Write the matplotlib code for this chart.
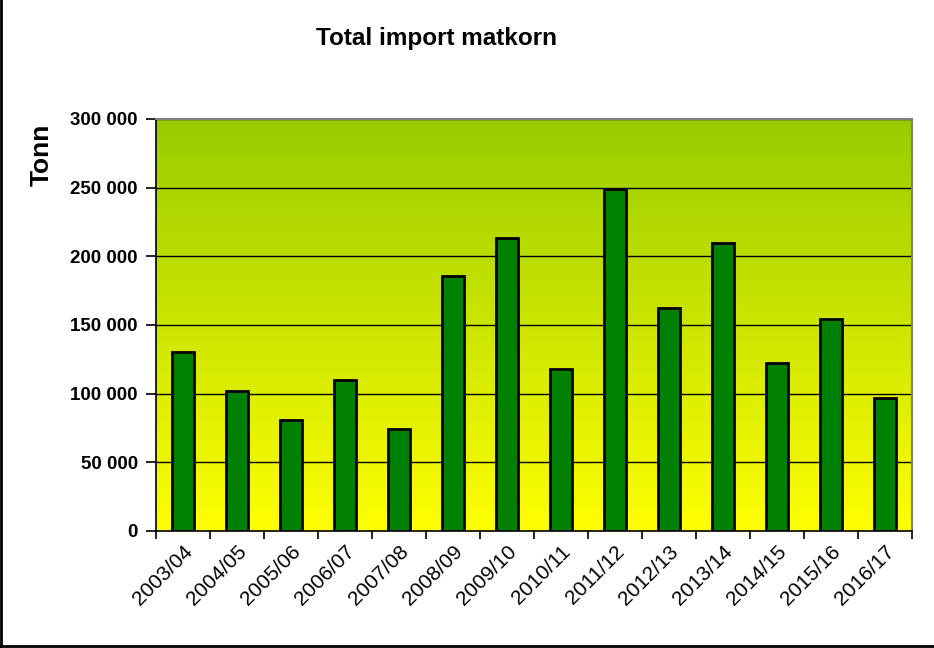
import numpy as np
import matplotlib.pyplot as plt
from matplotlib.colors import LinearSegmentedColormap
from matplotlib.lines import Line2D

seasons = ['2003/04', '2004/05', '2005/06', '2006/07', '2007/08', '2008/09', '2009/10',
           '2010/11', '2011/12', '2012/13', '2013/14', '2014/15', '2015/16', '2016/17']
tonn = [130000, 102000, 81000, 110000, 74000, 186000, 213000,
        118000, 249000, 162000, 210000, 122000, 154000, 97000]
yticks = [0, 50000, 100000, 150000, 200000, 250000, 300000]

plt.rcParams['font.family'] = ['Liberation Sans', 'DejaVu Sans']

fig = plt.figure(figsize=(9.34, 6.48), dpi=100)
ax = fig.add_axes([0.167, 0.1806, 0.8095, 0.6358])

# gradient background
cmap = LinearSegmentedColormap.from_list('bg', ['#ffff00', '#99cc00'])
grad = np.linspace(0, 1, 256).reshape(-1, 1)
ax.imshow(grad, cmap=cmap, aspect='auto', extent=[0, 1, 0, 1], origin='lower',
          transform=ax.transAxes, zorder=0)

x = np.arange(len(seasons))
ax.bar(x, tonn, width=0.42, color='#008000', edgecolor='black', linewidth=2, zorder=3)

ax.set_xlim(-0.5, len(seasons) - 0.5)
ax.set_ylim(0, 300000)
ax.set_yticks(yticks)
ax.set_yticklabels([f'{v:,}'.replace(',', ' ') for v in yticks], fontsize=13.5, fontweight='bold')
for v in yticks[1:]:
    ax.axhline(v, color='black', linewidth=1, zorder=1)

ax.set_xticks(np.arange(len(seasons) + 1) - 0.5)
ax.set_xticklabels([])
ax.set_xticks(x, minor=True)
ax.set_xticklabels(seasons, minor=True, rotation=45, ha='right', rotation_mode='anchor', fontsize=15)
ax.tick_params(axis='x', which='minor', length=0, pad=8)
ax.tick_params(axis='x', which='major', length=6, width=1.2, direction='out')
ax.tick_params(axis='y', length=7, width=1.2, direction='out', pad=6)

ax.spines['left'].set_linewidth(1.2)
ax.spines['bottom'].set_linewidth(1.2)
ax.spines['top'].set_color('#808080')
ax.spines['right'].set_color('#808080')
ax.spines['top'].set_linewidth(1.5)
ax.spines['right'].set_linewidth(1.5)

fig.text(42 / 934, 1 - 155 / 648, 'Tonn', fontsize=19, fontweight='bold', rotation=90,
         ha='center', va='center')
fig.text(437 / 934, 1 - 39 / 648, 'Total import matkorn', fontsize=17.5, fontweight='bold',
         ha='center', va='center')

# frame only on left and bottom, like the original
fig.lines.append(Line2D([0.001, 0.001], [0.003, 1], transform=fig.transFigure, color='black', linewidth=2))
fig.lines.append(Line2D([0, 1], [0.003, 0.003], transform=fig.transFigure, color='black', linewidth=2))

fig.savefig('out.png', dpi=100)
